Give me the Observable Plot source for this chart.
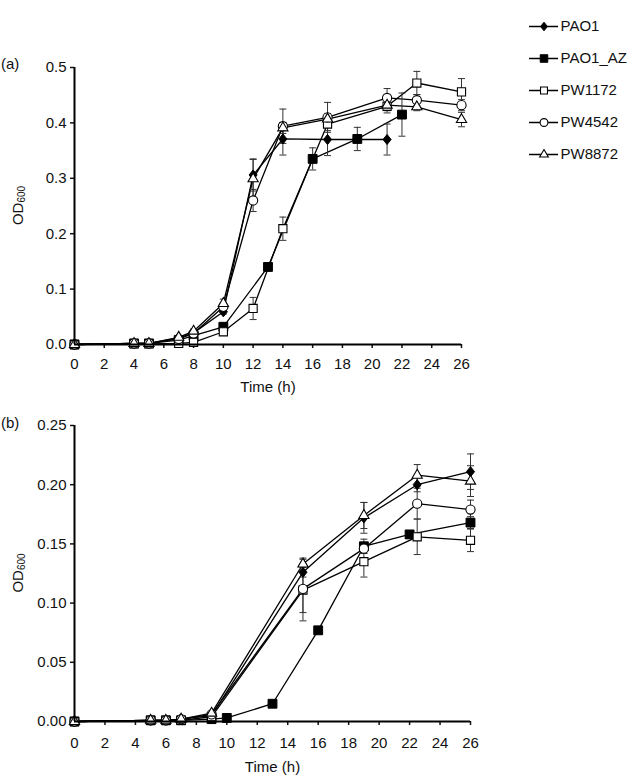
<!DOCTYPE html>
<html><head><meta charset="utf-8">
<script src="https://cdn.jsdelivr.net/npm/d3@7"></script>
<script src="https://cdn.jsdelivr.net/npm/@observablehq/plot@0.6"></script>
<style>
body{margin:0;background:#fff;}
#chart{position:relative;width:635px;height:781px;font-family:"Liberation Sans",Arial,sans-serif;}
</style></head><body><div id="chart"></div>
<script>
// ---------- data ----------
const seriesNames = ["PAO1", "PAO1_AZ", "PW1172", "PW4542", "PW8872"];
const xTicks = [0, 2, 4, 6, 8, 10, 12, 14, 16, 18, 20, 22, 24, 26];
const yTicksA = [0, 0.1, 0.2, 0.3, 0.4, 0.5];
const yTicksB = [0, 0.05, 0.10, 0.15, 0.20, 0.25];

// Panel (a)
const aTimePAO1 = [0, 4, 5, 7, 8, 10, 12, 14, 17, 21];
const aOdPAO1   = [0, 0.002, 0.002, 0.012, 0.021, 0.059, 0.306, 0.371, 0.370, 0.370];
const aSdPAO1   = [0, 0, 0, 0, 0, 0.004, 0.029, 0.029, 0.029, 0.028];

const aTimeAZ = [0, 4, 5, 7, 8, 10, 13, 16, 19, 22];
const aOdAZ   = [0, 0.002, 0.002, 0.008, 0.016, 0.032, 0.140, 0.335, 0.371, 0.415];
const aSdAZ   = [0, 0, 0, 0, 0, 0.003, 0.004, 0.020, 0.021, 0.039];

const aTimePW = [0, 4, 5, 7, 8, 10, 12, 14, 17, 21, 23, 26];
const aOd1172 = [0, 0.001, 0.001, 0.002, 0.004, 0.023, 0.065, 0.209, 0.398, 0.430, 0.472, 0.456];
const aSd1172 = [0, 0, 0, 0, 0.002, 0.004, 0.020, 0.021, 0.012, 0.012, 0.021, 0.024];
const aOd4542 = [0, 0.002, 0.002, 0.010, 0.020, 0.068, 0.260, 0.394, 0.410, 0.445, 0.441, 0.432];
const aSd4542 = [0, 0, 0, 0, 0.003, 0.008, 0.020, 0.031, 0.027, 0.017, 0.010, 0.010];
const aOd8872 = [0, 0.002, 0.002, 0.013, 0.024, 0.074, 0.299, 0.391, 0.407, 0.432, 0.429, 0.406];
const aSd8872 = [0, 0, 0, 0.003, 0.004, 0.008, 0.035, 0.010, 0.010, 0.010, 0.007, 0.013];

// Panel (b)
const bTimePW = [0, 5, 6, 7, 9, 15, 19, 22.5, 26];
const bOdPAO1 = [0, 0.001, 0.001, 0.002, 0.005, 0.126, 0.172, 0.200, 0.211];
const bSdPAO1 = [0, 0, 0, 0, 0, 0.004, 0.013, 0.006, 0.015];

const bTimeAZ = [0, 5, 6, 7, 9, 10, 13, 16, 19, 22, 26];
const bOdAZ   = [0, 0.001, 0.001, 0.001, 0.002, 0.003, 0.015, 0.077, 0.148, 0.158, 0.168];
const bSdAZ   = [0, 0, 0, 0, 0, 0, 0, 0, 0.006, 0.003, 0.005];

const bOd1172 = [0, 0.001, 0.001, 0.001, 0.004, 0.111, 0.135, 0.156, 0.153];
const bSd1172 = [0, 0, 0, 0, 0, 0.026, 0.013, 0.015, 0.0095];
const bOd4542 = [0, 0.001, 0.001, 0.002, 0.006, 0.112, 0.146, 0.184, 0.179];
const bSd4542 = [0, 0, 0, 0, 0, 0.020, 0.004, 0.013, 0.008];
const bOd8872 = [0, 0.001, 0.001, 0.002, 0.007, 0.133, 0.174, 0.208, 0.203];
const bSd8872 = [0, 0, 0, 0, 0, 0.005, 0.011, 0.009, 0.013];

// ---------- build tables ----------
function rows(series, t, od, sd) {
  return t.map((x, i) => ({series, t: x, od: od[i], sd: sd[i]}));
}
const rowsA = [
  ...rows("PAO1", aTimePAO1, aOdPAO1, aSdPAO1),
  ...rows("PAO1_AZ", aTimeAZ, aOdAZ, aSdAZ),
  ...rows("PW1172", aTimePW, aOd1172, aSd1172),
  ...rows("PW4542", aTimePW, aOd4542, aSd4542),
  ...rows("PW8872", aTimePW, aOd8872, aSd8872)
];
const rowsB = [
  ...rows("PAO1", bTimePW, bOdPAO1, bSdPAO1),
  ...rows("PAO1_AZ", bTimeAZ, bOdAZ, bSdAZ),
  ...rows("PW1172", bTimePW, bOd1172, bSd1172),
  ...rows("PW4542", bTimePW, bOd4542, bSd4542),
  ...rows("PW8872", bTimePW, bOd8872, bSd8872)
];

// ---------- styles ----------
const FONT = '"Liberation Sans", Arial, Helvetica, sans-serif';
const diamondSym = {draw(ctx, size) {
  const w = Math.sqrt(size / 2.5), h = 1.25 * w;
  ctx.moveTo(0, -h); ctx.lineTo(w, 0); ctx.lineTo(0, h); ctx.lineTo(-w, 0); ctx.closePath();
}};
const capSym = {draw(ctx, size) { ctx.moveTo(-3.5, 0); ctx.lineTo(3.5, 0); }};
const markerStyle = {
  "PAO1":    {symbol: diamondSym, r: 3.6, fill: "#000", stroke: "#000", strokeWidth: 1},
  "PAO1_AZ": {symbol: "square",   r: 5,   fill: "#000", stroke: "#000", strokeWidth: 1},
  "PW1172":  {symbol: "square",   r: 4.6, fill: "#fff", stroke: "#000", strokeWidth: 1.1},
  "PW4542":  {symbol: "circle",   r: 4.6, fill: "#fff", stroke: "#000", strokeWidth: 1.1},
  "PW8872":  {symbol: "triangle", r: 3.8, fill: "#fff", stroke: "#000", strokeWidth: 1.1}
};

const chart = document.getElementById("chart");

function panel({data, top, height, marginTop, marginBottom, marginRight, yMax, yTicks, yFmt, tag, tagY, xPad, labelDy}) {
  const errs = data.filter(d => d.sd > 0);
  const plot = Plot.plot({
    width: 490, height, marginLeft: 74, marginRight, marginTop, marginBottom,
    style: {position: "absolute", left: "0px", top: top + "px", fontFamily: FONT, fontSize: "15px", color: "#111", background: "transparent", overflow: "visible"},
    x: {domain: [0, 26]},
    y: {domain: [0, yMax]},
    marks: [
      Plot.axisY({ticks: yTicks, tickFormat: yFmt, tickSize: 4, tickPadding: 4, strokeWidth: 1.5, label: null, fontSize: 15}),
      Plot.axisX({ticks: xTicks, tickFormat: d3.format("d"), tickSize: 4, tickPadding: xPad, strokeWidth: 1.5, label: null, fontSize: 15}),
      Plot.line(data, {x: "t", y: "od", z: "series", stroke: "#000", strokeWidth: 1.3}),
      Plot.ruleX(errs, {x: "t", y1: d => d.od - d.sd, y2: d => d.od + d.sd, stroke: "#333", strokeWidth: 1}),
      Plot.dot(errs, {x: "t", y: d => d.od - d.sd, symbol: capSym, stroke: "#333", strokeWidth: 1}),
      Plot.dot(errs, {x: "t", y: d => d.od + d.sd, symbol: capSym, stroke: "#333", strokeWidth: 1}),
      ...seriesNames.map(s => Plot.dot(data.filter(d => d.series === s), {x: "t", y: "od", ...markerStyle[s]})),
      Plot.ruleX([0], {stroke: "#000", strokeWidth: 2}),
      Plot.ruleY([0], {stroke: "#000", strokeWidth: 2}),
      Plot.text(["Time (h)"], {frameAnchor: "bottom", dy: labelDy, fontSize: 15, fill: "#111"})
    ]
  });
  const svg = d3.select(plot);
  svg.append("text").attr("x", 1).attr("y", tagY).attr("text-anchor", "start")
    .attr("font-size", 15).attr("font-family", FONT).attr("fill", "#111").text(tag);
  const cy = marginTop + (height - marginTop - marginBottom) / 2;
  const lab = svg.append("text")
    .attr("transform", `translate(23,${cy}) rotate(-90)`)
    .attr("text-anchor", "middle").attr("font-size", 15).attr("font-family", FONT).attr("fill", "#111");
  lab.append("tspan").text("OD");
  lab.append("tspan").attr("font-size", 10).attr("dy", 2).text("600");
  chart.appendChild(plot);
}

panel({data: rowsA, top: 0, height: 400, marginTop: 67, marginBottom: 56, marginRight: 29,
  yMax: 0.5, yTicks: yTicksA, yFmt: d3.format(".1f"), tag: "(a)", tagY: 69, xPad: 10, labelDy: 47});
panel({data: rowsB, top: 400, height: 381, marginTop: 25, marginBottom: 60, marginRight: 20,
  yMax: 0.25, yTicks: yTicksB, yFmt: d3.format(".2f"), tag: "(b)", tagY: 28, xPad: 12, labelDy: 50});

// ---------- legend ----------
const legend = Plot.plot({
  width: 155, height: 190, marginLeft: 49, marginRight: 77, marginTop: 0, marginBottom: 0,
  style: {position: "absolute", left: "480px", top: "0px", fontFamily: FONT, fontSize: "15px", color: "#111", background: "transparent", overflow: "visible"},
  x: {domain: [0, 1], axis: null},
  y: {type: "point", domain: seriesNames, range: [9, 171], axis: null},
  marks: [
    Plot.tickY(seriesNames, {y: d => d, stroke: "#000", strokeWidth: 1.5}),
    ...seriesNames.map(s => Plot.dot([s], {y: d => d, frameAnchor: "middle", ...markerStyle[s], r: markerStyle[s].r * 0.85})),
    Plot.text(seriesNames, {y: d => d, frameAnchor: "right", dx: 2, textAnchor: "start", fontSize: 15, fill: "#111"})
  ]
});
chart.appendChild(legend);
</script>
</body></html>
